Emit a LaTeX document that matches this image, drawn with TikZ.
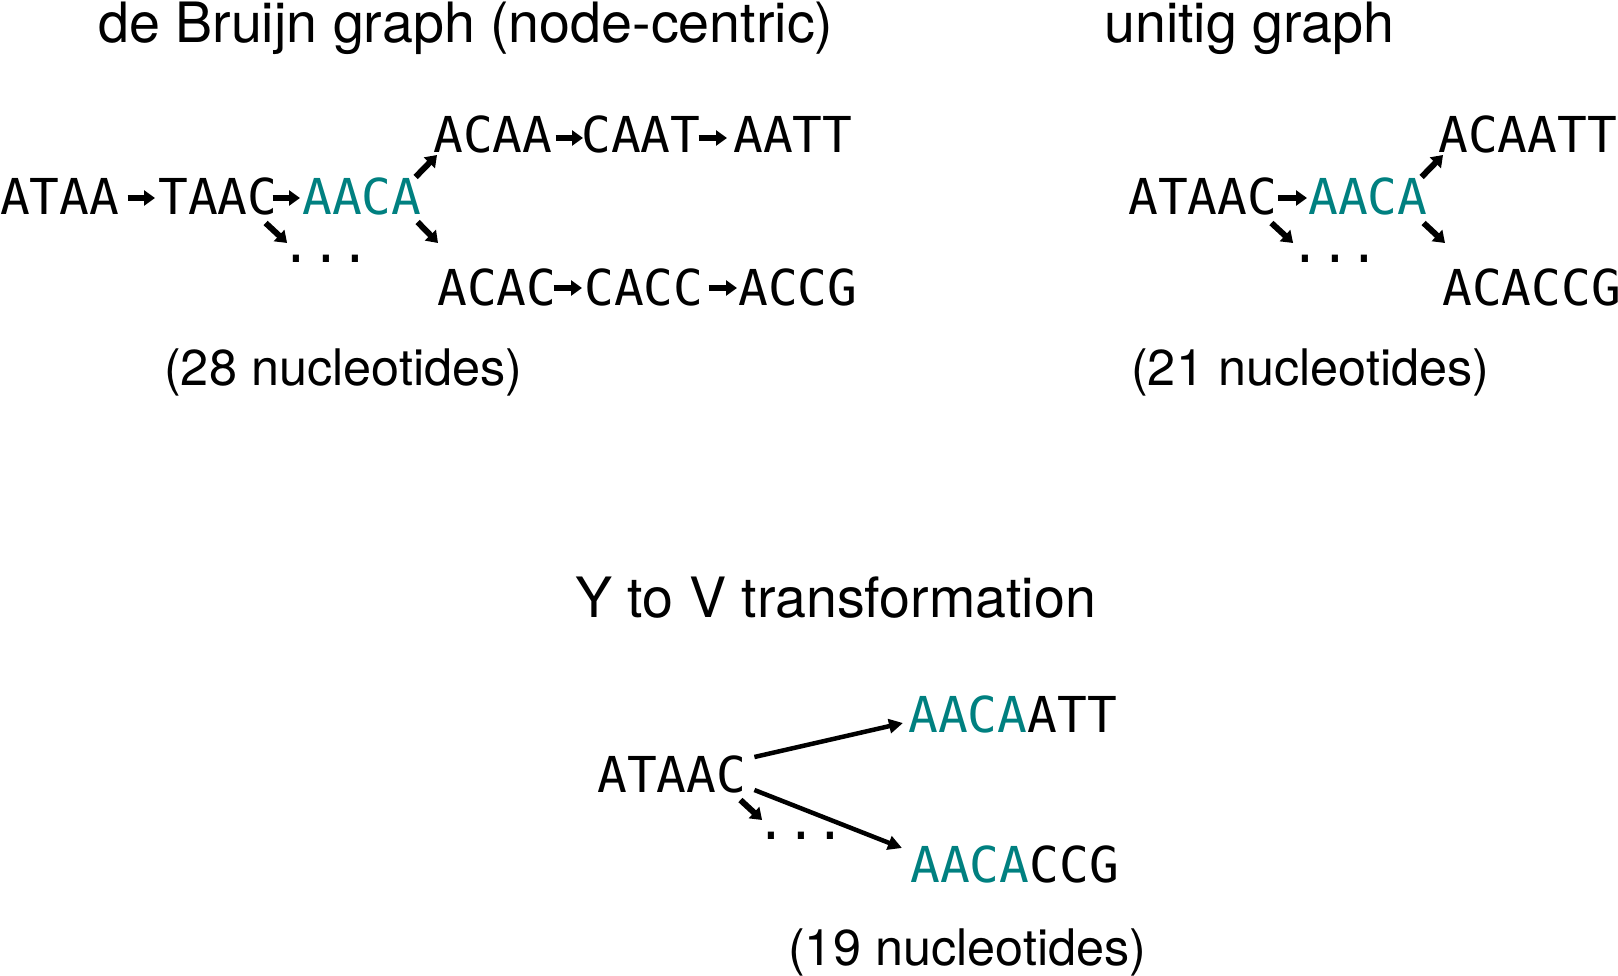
\documentclass[tikz,border=0pt]{standalone}
\usepackage{fontspec}
\setmonofont{DejaVu Sans Mono}
\setsansfont{TeX Gyre Heros}
\usetikzlibrary{arrows.meta,calc}
\definecolor{dnateal}{RGB}{0,128,128}
\tikzset{
  seq/.style={inner sep=0pt,anchor=base west,font=\ttfamily\fontsize{49.5}{50}\selectfont},
  dots/.style={inner sep=0pt,anchor=base,font=\ttfamily\fontsize{49.5}{50}\selectfont},
  ttl/.style={inner sep=0pt,anchor=base west,font=\sffamily\fontsize{55.6}{60}\selectfont},
  lbl/.style={inner sep=0pt,anchor=base west,font=\sffamily\fontsize{50.4}{55}\selectfont},
  sarr/.style={line width=6pt,-{Triangle[length=11pt,width=15pt]}},
  larr/.style={line width=4.5pt,-{Triangle[length=14pt,width=14pt]}}
}
\begin{document}
\begin{tikzpicture}[x=1pt,y=-1pt]
\useasboundingbox (0,0) rectangle (1618,976);
% titles
\node[ttl] (t1) at (98,43) {de Bruijn graph (node-centric)};
\node[ttl] (t2) at (1104,43) {unitig graph};
\node[ttl] (t3) at (575,617) {Y to V transformation};
% de Bruijn graph
\node[seq] (ataa) at (0,215) {ATAA};
\node[seq] (taac) at (158,215) {TAAC};
\node[seq,text=dnateal] (aaca) at (302,215) {AACA};
\node[seq] (acaa) at (433,153) {ACAA};
\node[seq] (caat) at (581,153) {CAAT};
\node[seq] (aatt) at (733,153) {AATT};
\node[seq] (acac) at (437,306) {ACAC};
\node[seq] (cacc) at (584,306) {CACC};
\node[seq] (accg) at (738,306) {ACCG};
\node[dots] (d1) at (326,263) {...};
\node[lbl] (n1) at (164,386) {(28 nucleotides)};
\draw[sarr] ([shift={(8,-17)}]ataa.base east) -- ([shift={(-3,-17)}]taac.base west);
\draw[sarr] ([shift={(-5,-17)}]taac.base east) -- ([shift={(-2,-17)}]aaca.base west);
\draw[sarr] ([shift={(-6,-38)}]aaca.base east) -- ([shift={(4,2)}]acaa.base west);
\draw[sarr] ([shift={(3,-15)}]acaa.base east) -- ([shift={(2,-15)}]caat.base west);
\draw[sarr] ([shift={(-2,-15)}]caat.base east) -- ([shift={(-6,-15)}]aatt.base west);
\draw[sarr] ([shift={(-4,7)}]aaca.base east) -- ([shift={(1,-63)}]acac.base west);
\draw[sarr] ([shift={(-3,-18)}]acac.base east) -- ([shift={(-2,-18)}]cacc.base west);
\draw[sarr] ([shift={(5,-18)}]cacc.base east) -- ([shift={(-1,-18)}]accg.base west);
\draw[sarr] ([shift={(-12,8)}]taac.base east) -- ([shift={(6,-20)}]d1.base west);
% unitig graph
\node[seq] (u1) at (1128,215) {ATAAC};
\node[seq,text=dnateal] (u2) at (1308,215) {AACA};
\node[seq] (u3) at (1438,153) {ACAATT};
\node[seq] (u4) at (1442,306) {ACACCG};
\node[dots] (d2) at (1335,263) {...};
\node[lbl] (n2) at (1131,386) {(21 nucleotides)};
\draw[sarr] ([shift={(1,-17)}]u1.base east) -- ([shift={(-1,-17)}]u2.base west);
\draw[sarr] ([shift={(-6,-38)}]u2.base east) -- ([shift={(5,2)}]u3.base west);
\draw[sarr] ([shift={(-4,8)}]u2.base east) -- ([shift={(3,-63)}]u4.base west);
\draw[sarr] ([shift={(-6,8)}]u1.base east) -- ([shift={(3,-20)}]d2.base west);
% Y to V
\node[seq] (v1) at (597,792) {ATAAC};
\node[seq] (v2) at (908,732) {\textcolor{dnateal}{AACA}ATT};
\node[seq] (v3) at (910,882) {\textcolor{dnateal}{AACA}CCG};
\node[dots] (d3) at (801,839) {...};
\node[lbl] (n3) at (788,965) {(19 nucleotides)};
\draw[larr] ([shift={(8,-35)}]v1.base east) -- ([shift={(-5,-9)}]v2.base west);
\draw[larr] ([shift={(8,-2)}]v1.base east) -- ([shift={(-8,-34)}]v3.base west);
\draw[sarr] ([shift={(-6,8)}]v1.base east) -- ([shift={(6,-19)}]d3.base west);
\end{tikzpicture}
\end{document}
